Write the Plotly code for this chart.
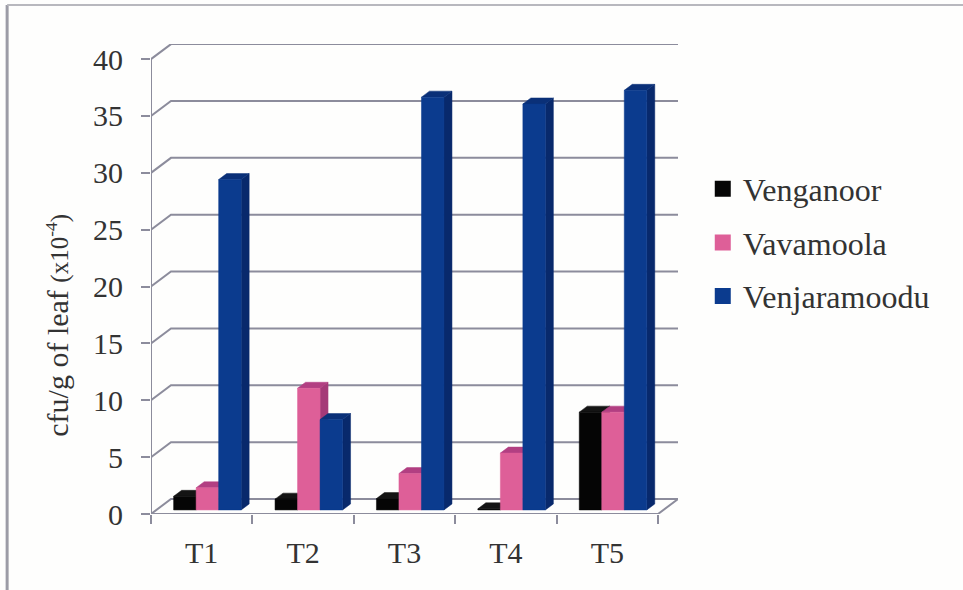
import plotly.graph_objects as go

categories = ["T1", "T2", "T3", "T4", "T5"]
venganoor = [1.2, 0.95, 1.0, 0.1, 8.6]
vavamoola = [1.95, 10.7, 3.2, 5.0, 8.6]
venjaramoodu = [29.05, 7.95, 36.3, 35.7, 36.9]
y_ticks = [0, 5, 10, 15, 20, 25, 30, 35, 40]

series = [
    ("Venganoor", venganoor, "#050505", "#000000", "#141414"),
    ("Vavamoola", vavamoola, "#DE5F98", "#A53A78", "#B23F82"),
    ("Venjaramoodu", venjaramoodu, "#0B3B8E", "#08296C", "#0A3078"),
]

# Oblique projection of the 3-D box: depth 0 is the front plane, depth 1 the back wall.
DEPTH_X = 0.197
DEPTH_Y = 1.32
BAR_FRONT = 0.27
BAR_BACK = 0.67
BAR_START = 0.17
BAR_WIDTH = 0.222
GRID = "#8C8C9C"
INK = "#333333"


def project(x, v, d):
    return x + d * DEPTH_X, v + d * DEPTH_Y


def polygon(points, color):
    xs, ys = zip(*[project(*p) for p in points + points[:1]])
    return go.Scatter(x=xs, y=ys, mode="lines", fill="toself", fillcolor=color,
                      line=dict(color=color, width=0.5), hoverinfo="skip", showlegend=False)


def line(points, width=2, color=GRID):
    xs, ys = zip(*[project(*p) for p in points])
    return go.Scatter(x=xs, y=ys, mode="lines", line=dict(color=color, width=width),
                      hoverinfo="skip", showlegend=False)


fig = go.Figure()

# Back wall gridlines with their returns to the side wall
for v in y_ticks:
    fig.add_trace(line([(0, v, 0), (0, v, 1), (5, v, 1)]))
# Floor outline and the vertical axis
fig.add_trace(line([(0, 0, 0), (5, 0, 0), (5, 0, 1), (0, 0, 1)]))
fig.add_trace(line([(0, 0, 0), (0, 40, 0)]))

# Bars, painted left to right so each front face overlaps its neighbour's side
for i in range(len(categories)):
    for j, (name, values, front, side, top) in enumerate(series):
        v = values[i]
        x0 = i + BAR_START + j * BAR_WIDTH
        x1 = x0 + BAR_WIDTH
        fig.add_trace(polygon([(x1, 0, BAR_FRONT), (x1, 0, BAR_BACK), (x1, v, BAR_BACK), (x1, v, BAR_FRONT)], side))
        fig.add_trace(polygon([(x0, v, BAR_FRONT), (x1, v, BAR_FRONT), (x1, v, BAR_BACK), (x0, v, BAR_BACK)], top))
        fig.add_trace(polygon([(x0, 0, BAR_FRONT), (x1, 0, BAR_FRONT), (x1, v, BAR_FRONT), (x0, v, BAR_FRONT)], front))

# Legend entries, one group each so the rows can be spaced apart
for name, values, front, side, top in series:
    fig.add_trace(go.Scatter(x=[None], y=[None], mode="markers", name=name, legendgroup=name,
                             marker=dict(symbol="square", size=16, color=front)))

FONT = "Liberation Serif"
fig.update_layout(
    width=963, height=590, autosize=False,
    margin=dict(l=151, r=285, t=44, b=76),
    paper_bgcolor="#FEFEFD", plot_bgcolor="rgba(0,0,0,0)",
    font=dict(family=FONT, color=INK, size=30),
    xaxis=dict(range=[0, 5 + DEPTH_X], tickvals=[i + 0.5 for i in range(5)], ticktext=categories,
               ticks="", showgrid=False, zeroline=False, showline=False, tickfont=dict(size=30),
               ticklabelstandoff=18,
               minor=dict(tickvals=list(range(6)), ticks="outside", ticklen=9, tickcolor=GRID,
                          tickwidth=2, showgrid=False)),
    yaxis=dict(range=[0, 41.33], tickvals=y_ticks, ticks="outside", ticklen=9, tickcolor=GRID, tickwidth=2,
               showgrid=False, zeroline=False, showline=False, tickfont=dict(size=30),
               ticklabelstandoff=12),
    legend=dict(x=1.047, y=0.75, xanchor="left", yanchor="top", font=dict(size=32), itemwidth=30,
                tracegroupgap=9, bgcolor="rgba(0,0,0,0)"),
    annotations=[dict(
        text='cfu/g of leaf <span style="font-size:25px">(x10<sup>-4</sup>)</span>',
        xref="paper", yref="paper", x=-0.179, y=0.402, textangle=-90, showarrow=False,
        font=dict(size=30, color=INK), xanchor="center", yanchor="middle")],
    shapes=[
        dict(type="line", xref="paper", yref="paper", x0=-0.273, x1=-0.273, y0=-0.162, y1=1.083,
             line=dict(color="#9C9CA6", width=3), layer="below"),
        dict(type="line", xref="paper", yref="paper", x0=-0.273, x1=1.541, y0=1.083, y1=1.083,
             line=dict(color="#B8B8BE", width=2), layer="below"),
    ],
)

fig.write_html("out.html")
